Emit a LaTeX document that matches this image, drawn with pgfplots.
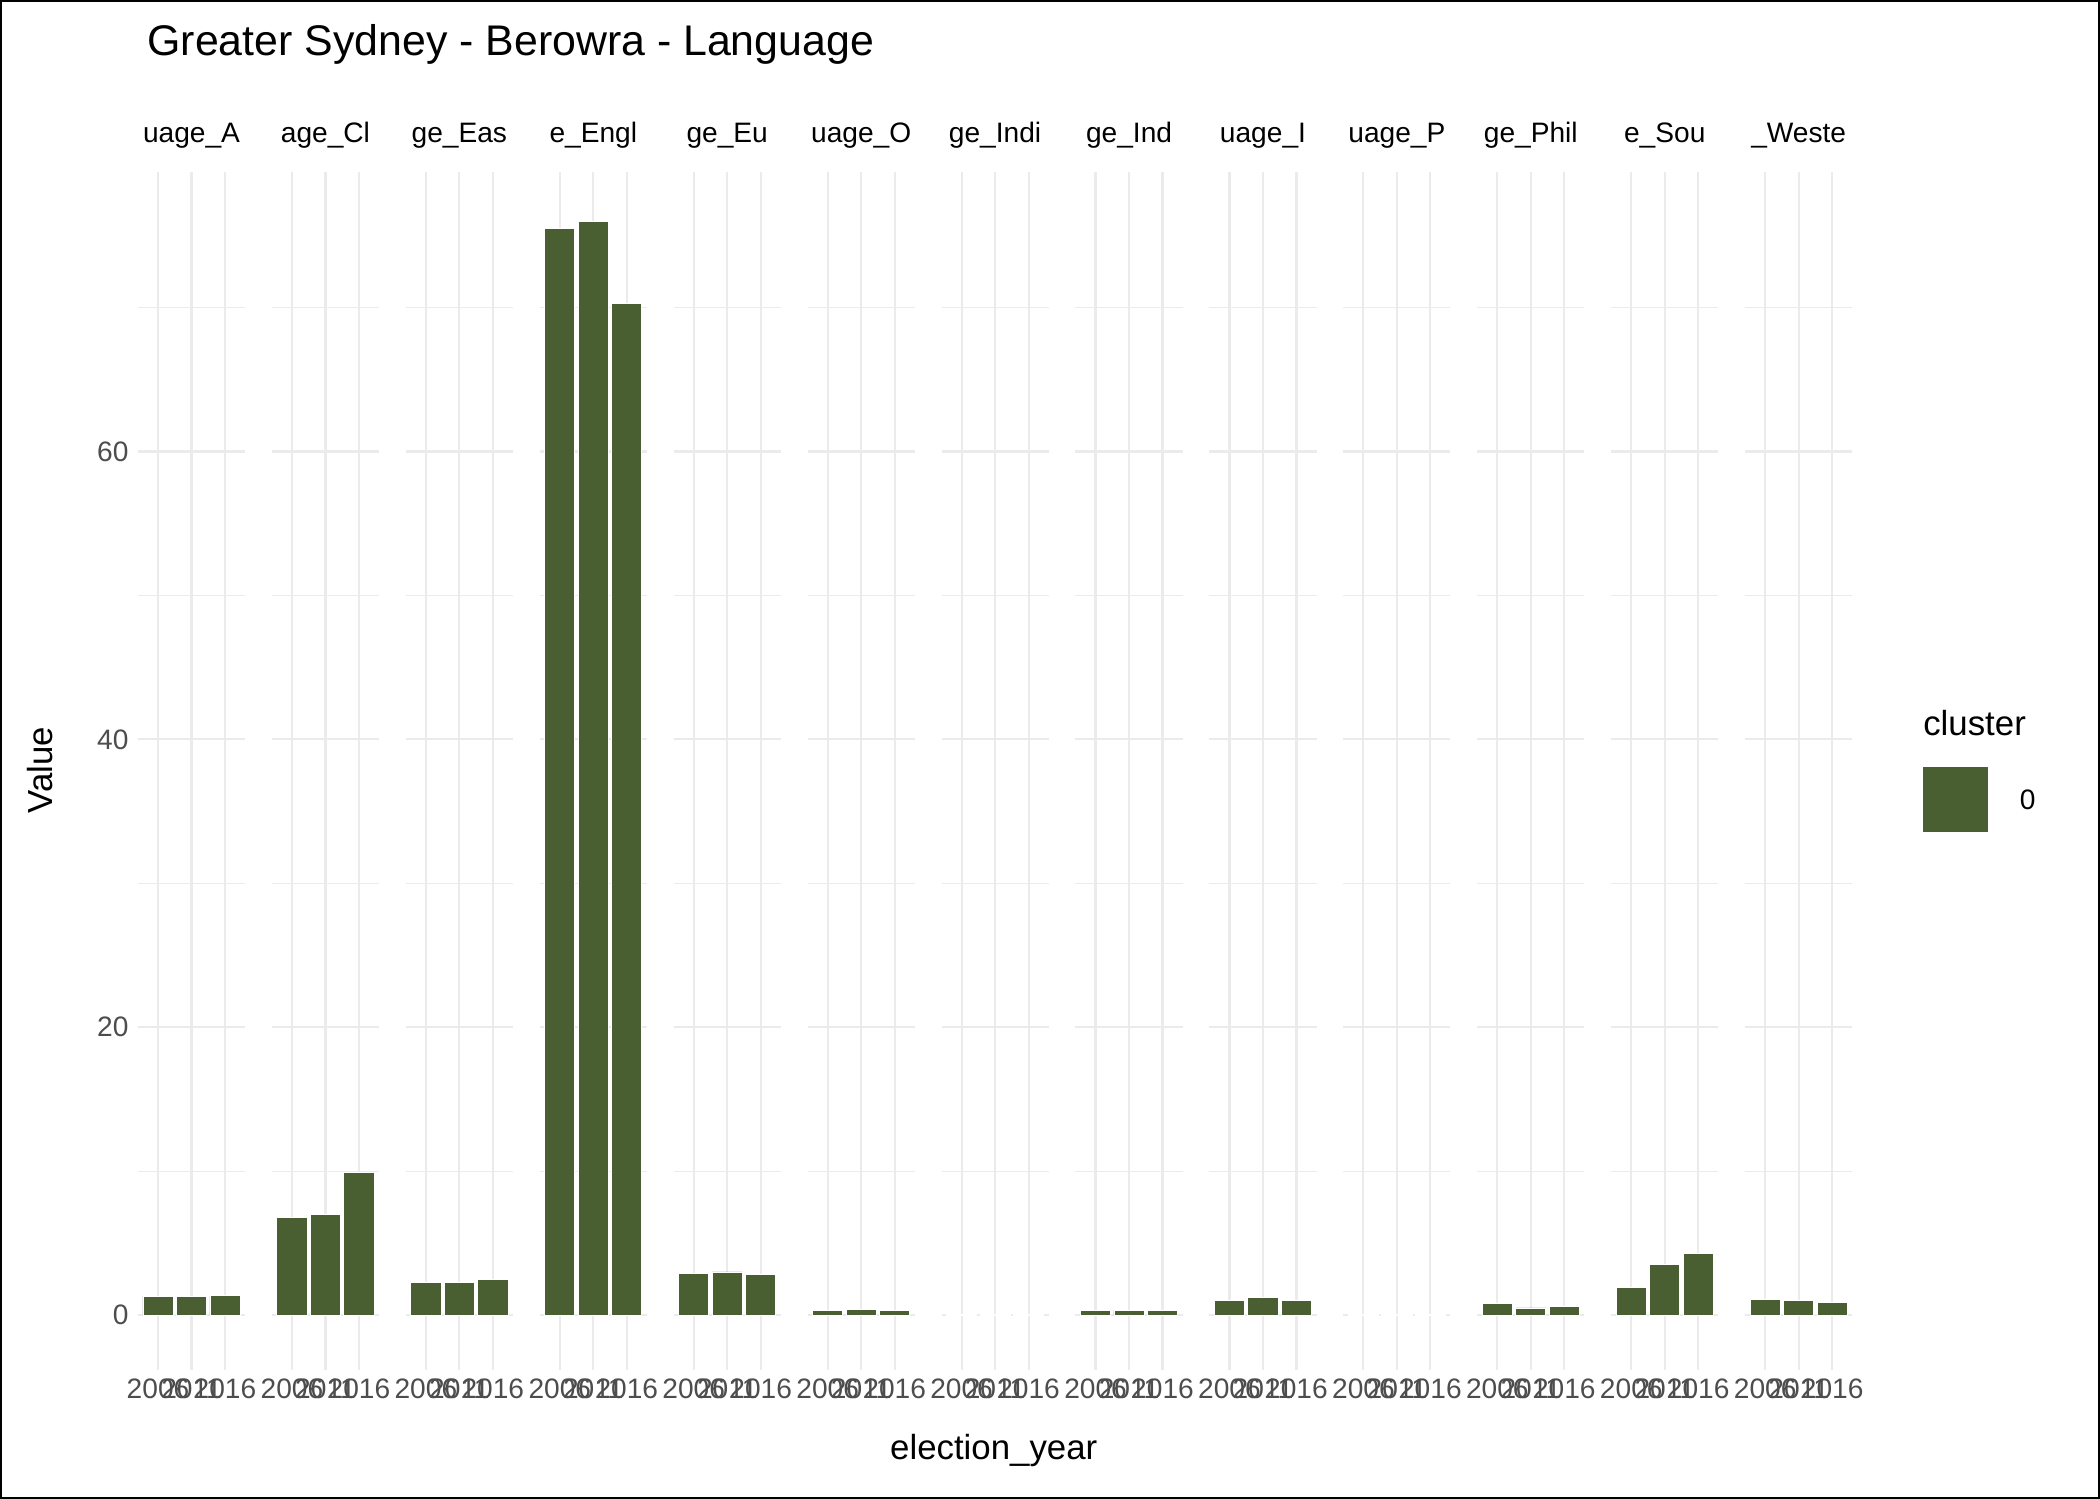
\documentclass[border=0pt]{standalone}
\usepackage{pgfplots}
\pgfplotsset{compat=1.18}
\usepgfplotslibrary{groupplots}
\usetikzlibrary{calc}
\usepackage{fontspec}
\setmainfont{Liberation Sans}
\definecolor{barc}{RGB}{73,94,49}
\definecolor{gridc}{RGB}{235,235,235}
\definecolor{tickc}{RGB}{77,77,77}
\newcommand\panel[4]{%
\nextgroupplot
\addplot[ybar,bar width=0.9,fill=barc,draw=white,line width=0.3pt] coordinates {(1,#2) (2,#3) (3,#4)};
\node[font=\fontsize{10.5}{12}\selectfont,anchor=base] at ([yshift=11pt]rel axis cs:0.5,1) {#1};
}
\begin{document}
\begin{tikzpicture}
\begin{groupplot}[
  group style={group size=13 by 1, horizontal sep=10pt, y descriptions at=edge left},
  scale only axis, width=40pt, height=447pt,
  xmin=0.4, xmax=3.6, ymin=-3.78, ymax=79.4,
  axis line style={draw=none}, major tick length=0pt, minor tick length=0pt,
  xtick={1,2,3}, xticklabels={2006,2011,2016},
  ytick={0,20,40,60}, minor ytick={10,30,50,70},
  grid=both, major grid style={gridc,line width=0.8pt}, minor grid style={gridc,line width=0.5pt},
  tick label style={font=\fontsize{10.5}{12}\selectfont, text=tickc},
  /pgf/number format/assume math mode=true,
  clip=false,
]
\nextgroupplot
\coordinate (o) at (rel axis cs:0,0);
\addplot[ybar,bar width=0.9,fill=barc,draw=white,line width=0.3pt] coordinates {(1,1.3) (2,1.3) (3,1.35)};
\node[font=\fontsize{10.5}{12}\selectfont,anchor=base] at ([yshift=11pt]rel axis cs:0.5,1) {uage\_A};
\panel{age\_Cl}{6.8}{7.0}{9.9}
\panel{ge\_Eas}{2.3}{2.3}{2.5}
\panel{e\_Engl}{75.5}{76.0}{70.3}
\panel{ge\_Eu}{2.9}{3.0}{2.8}
\panel{uage\_O}{0.3}{0.4}{0.3}
\panel{ge\_Indi}{0.05}{0.05}{0.05}
\panel{ge\_Ind}{0.35}{0.35}{0.35}
\panel{uage\_I}{1.0}{1.2}{1.0}
\panel{uage\_P}{0.05}{0.05}{0.05}
\panel{ge\_Phil}{0.8}{0.5}{0.6}
\panel{e\_Sou}{1.9}{3.5}{4.3}
\panel{\_Weste}{1.1}{1.0}{0.9}
\end{groupplot}
\draw[black,line width=0.8pt] ($(o)+(-51.1pt,-47.8pt)$) rectangle ($(o)+(732.1pt,510.9pt)$);
\node[anchor=west,font=\fontsize{16}{18}\selectfont] at ($(o)+(0pt,494.8pt)$) {Greater Sydney - Berowra - Language};
\node[font=\fontsize{13}{15}\selectfont] at ($(o)+(319.5pt,-30.2pt)$) {election\_year};
\node[rotate=90,font=\fontsize{13}{15}\selectfont] at ($(o)+(-36.5pt,223.8pt)$) {Value};
\node[anchor=west,font=\fontsize{13}{15}\selectfont] at ($(o)+(663pt,241.3pt)$) {cluster};
\fill[barc] ($(o)+(666.5pt,200.8pt)$) rectangle ($(o)+(690.5pt,224.8pt)$);
\node[anchor=west,font=\fontsize{10.5}{12}\selectfont] at ($(o)+(699pt,212.8pt)$) {0};
\end{tikzpicture}
\end{document}
